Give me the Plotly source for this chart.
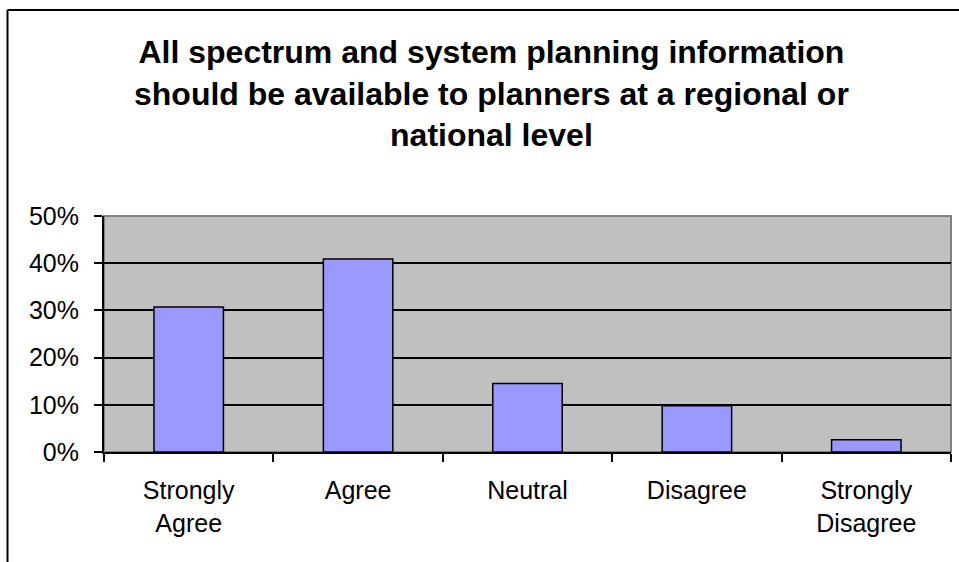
import plotly.graph_objects as go

categories = ["Strongly<br>Agree", "Agree", "Neutral", "Disagree", "Strongly<br>Disagree"]
values = [0.307, 0.409, 0.145, 0.098, 0.026]
y_ticks = [0, 0.1, 0.2, 0.3, 0.4, 0.5]
y_tick_labels = ["0%", "10%", "20%", "30%", "40%", "50%"]
title_text = ("All spectrum and system planning information<br>"
              "should be available to planners at a regional or<br>"
              "national level")

W, H = 959, 562
L, R, T, B = 104, 8, 216, 110
pw, ph = W - L - R, H - T - B

def px_x(x):
    return (x - L) / pw

def px_y(y):
    return (H - B - y) / ph

FONT = "Liberation Sans, Arial, sans-serif"

fig = go.Figure(go.Bar(
    x=categories, y=values,
    marker=dict(color="#9999FF", line=dict(color="black", width=1.5)),
    width=0.41,
))

fig.update_layout(
    width=W, height=H,
    margin=dict(l=L, r=R, t=T, b=B, autoexpand=False),
    paper_bgcolor="white",
    plot_bgcolor="#C0C0C0",
    showlegend=False,
    font=dict(family=FONT, color="black", size=25),
    xaxis=dict(
        type="category",
        tickson="boundaries",
        ticks="outside", ticklen=8, tickwidth=2, tickcolor="black",
        showline=True, linecolor="black", linewidth=2,
        showgrid=False,
        tickfont=dict(size=25),
        ticklabelstandoff=15,
        fixedrange=True,
    ),
    yaxis=dict(
        range=[0, 0.5],
        tickvals=y_ticks, ticktext=y_tick_labels,
        ticks="outside", ticklen=8, tickwidth=2, tickcolor="black",
        showline=True, linecolor="black", linewidth=2,
        showgrid=True, gridcolor="black", gridwidth=1.5,
        zeroline=False,
        tickfont=dict(size=25),
        ticklabelstandoff=10,
        fixedrange=True,
    ),
    annotations=[
        dict(text=title_text, xref="paper", yref="paper",
             x=px_x(491), xanchor="center", y=px_y(32), yanchor="top",
             showarrow=False, align="center",
             font=dict(size=32, family=FONT, weight="bold", color="black")),
    ],
    shapes=[
        dict(type="rect", xref="paper", yref="paper", x0=0, x1=1, y0=0, y1=1,
             line=dict(color="#808080", width=2), layer="below"),
        dict(type="line", xref="paper", yref="paper",
             x0=px_x(7.5), x1=px_x(7.5), y0=px_y(10), y1=px_y(600),
             line=dict(color="black", width=2)),
        dict(type="line", xref="paper", yref="paper",
             x0=px_x(7.5), x1=px_x(1000), y0=px_y(10), y1=px_y(10),
             line=dict(color="black", width=2)),
    ],
)

fig.write_html("out.html", config={"displayModeBar": False},
               post_script="document.body.style.margin='0';")
